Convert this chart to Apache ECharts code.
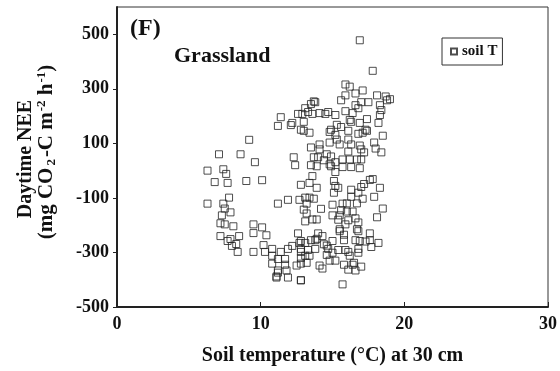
<!DOCTYPE html>
<html><head><meta charset="utf-8">
<script src="https://cdn.jsdelivr.net/npm/echarts@6/dist/echarts.min.js"></script>
<style>html,body{margin:0;padding:0;background:#fff}#c{width:560px;height:371px}</style>
</head><body><div id="c"></div>
<script>
// Soil temperature (°C) at 30 cm, and daytime NEE (mg CO2-C m-2 h-1)
const soilT = [
6.3,7.1,8.6,9.2,9.6,7.4,7.6,6.8,7.7,9.0,10.1,6.3,7.4,7.8,7.5,7.9,7.3,7.2,7.5,8.1,7.2,7.7,7.9,8.5,8.0,8.3,8.4,9.5,9.5,10.1,10.4,9.5,10.2,10.3,10.8,10.8,10.8,11.1,11.2,
11.4,11.2,12.1,12.2,12.6,12.8,12.4,12.8,11.2,11.9,12.7,13.0,
11.2,11.4,11.7,11.9,12.2,12.7,12.8,12.8,12.5,11.7,11.8,11.2,11.1,11.9,12.8,
15.5,16.8,12.8,13.1,13.5,13.8,15.0,15.8,16.6,16.9,17.6,18.2,17.7,12.8,13.3,13.8,14.7,15.0,14.6,15.4,15.9,16.1,16.2,16.8,16.8,13.1,13.4,12.8,13.2,14.8,15.2,14.1,14.3,15.8,16.1,16.4,16.5,16.6,17.0,12.8,15.7,
13.5,13.9,14.9,15.7,16.3,16.9,15.2,13.4,13.9,15.1,15.2,15.4,16.3,17.0,17.2,17.6,17.8,18.3,15.1,16.8,16.3,17.1,17.9,13.1,13.4,13.7,13.2,15.0,15.7,18.5,13.2,15.0,15.5,16.4,16.6,16.8,18.1,13.1,13.6,13.9,16.1,15.9,15.5,16.7,
13.5,13.8,13.1,13.3,13.6,14.1,14.7,14.5,15.2,12.9,13.0,13.0,13.4,15.6,16.6,17.0,17.5,18.3,18.8,18.4,18.3,15.9,16.4,16.2,16.8,17.4,18.2,15.3,15.6,16.3,16.1,16.9,17.4,17.1,16.8,14.8,15.2,15.3,15.5,16.1,16.3,16.9,17.0,17.2,17.9,18.5,18.0,18.4,13.5,14.1,14.1,14.8,16.1,14.9,14.4,14.8,12.3,13.7,14.0,14.6,15.7,16.2,16.7,17.0,15.2,14.9,17.3,
16.9,17.8,15.9,16.2,17.1,15.9,16.6,18.1,18.7,19.0,13.7,
14.0,14.3,15.8,16.0,13.6,14.2,15.4,17.6,12.6,14.4,16.7,17.3,13.9,15.6,14.6,16.0
];
const nee = [
0,60,60,113,31,5,-12,-42,-45,-38,-35,-121,-121,-99,-139,-153,-164,-193,-197,-204,-240,-258,-251,-240,-276,-269,-298,-197,-229,-208,-237,-298,-273,-298,-287,-312,-341,-388,-366,
196,164,167,175,208,150,20,-52,-121,-107,-107,-143,
-324,-298,-324,-287,-276,-265,-287,-320,-348,-345,-366,-374,-392,-392,-402,
-222,-222,-258,-265,-255,-255,-258,-255,-255,-258,-255,-265,-280,-298,-291,-287,-287,-301,-309,-291,-291,-298,-312,-287,-301,-312,-312,-341,-338,-330,-330,-348,-359,-345,-363,-345,-338,-366,-352,-402,-417,
20,16,16,13,13,9,-5,-45,-63,-38,-56,-63,-70,-60,-49,-34,-31,-63,-81,-81,-96,-103,-96,-99,-99,-103,-121,-125,-121,-139,-157,-164,-164,-150,-175,-190,-171,-186,-179,-179,-182,-197,-215,-215,
244,251,229,215,208,211,215,208,204,208,179,146,139,258,240,251,251,240,258,222,204,218,211,186,229,189,175,168,160,179,146,175,146,139,135,142,131,114,96,114,96,92,78,67,103,128,81,67,85,96,78,103,70,52,38,23,49,49,49,60,41,41,41,41,31,150,150,
478,366,316,308,294,276,283,276,272,262,254,
-230,-240,-235,-120,-20,-140,-180,-230,-230,-270,-120,-260,-250,-145,-275,-150
];
const xTicks = [0, 10, 20, 30];
const yTicks = [-500, -300, -100, 100, 300, 500];
const seriesName = 'soil T';

const points = soilT.map((t, i) => [t, nee[i]]);
const serif = '"Liberation Serif","DejaVu Serif",serif';
const chart = echarts.init(document.getElementById('c'), null, {renderer: 'canvas'});
chart.setOption({
  animation: false,
  backgroundColor: '#fff',
  grid: {left: 117, right: 10, top: 7, bottom: 59, show: true, borderColor: '#333', borderWidth: 1},
  xAxis: {
    type: 'value', min: xTicks[0], max: xTicks[xTicks.length - 1], interval: 10,
    axisLine: {show: true, onZero: false, lineStyle: {color: '#222', width: 2}},
    axisTick: {show: true, inside: true, length: 5, lineStyle: {color: '#222'}},
    splitLine: {show: false},
    axisLabel: {color: '#111', fontFamily: serif, fontWeight: 'bold', fontSize: 18, margin: 8},
    name: 'Soil temperature (°C) at 30 cm', nameLocation: 'middle', nameGap: 39,
    nameTextStyle: {color: '#111', fontFamily: serif, fontWeight: 'bold', fontSize: 20}
  },
  yAxis: {
    type: 'value', min: yTicks[0], max: 600, interval: 200,
    axisLine: {show: true, onZero: false, lineStyle: {color: '#222', width: 2}},
    axisTick: {show: true, inside: false, length: 4, lineStyle: {color: '#222'}},
    splitLine: {show: false},
    axisLabel: {color: '#111', fontFamily: serif, fontWeight: 'bold', fontSize: 18, margin: 8, showMaxLabel: false}
  },
  legend: {
    data: [seriesName], left: 442, top: 38, orient: 'vertical',
    borderColor: '#333', borderWidth: 1, padding: [6, 5, 6, 8],
    itemWidth: 6, itemHeight: 6, itemGap: 0,
    textStyle: {color: '#111', fontFamily: serif, fontWeight: 'bold', fontSize: 15}
  },
  graphic: [
    {type: 'text', left: 130, top: 17, style: {text: '(F)', font: 'bold 24px ' + serif, fill: '#111'}},
    {type: 'text', left: 174, top: 45, style: {text: 'Grassland', font: 'bold 22px ' + serif, fill: '#111'}},
    {type: 'text', x: 26, y: 159, rotation: Math.PI / 2,
      style: {text: 'Daytime NEE', font: 'bold 20px ' + serif, fill: '#111', align: 'center', verticalAlign: 'middle'}},
    {type: 'text', x: 47, y: 152, rotation: Math.PI / 2,
      style: {
        text: '{a|(mg CO}{s|2}{a|-C m}{p|-2}{a| h}{p|-1}{a|)}',
        align: 'center', verticalAlign: 'middle',
        rich: {
          a: {font: 'bold 21px ' + serif, fill: '#111'},
          s: {font: 'bold 13px ' + serif, fill: '#111', padding: [9, 2, 0, 2]},
          p: {font: 'bold 13px ' + serif, fill: '#111', padding: [0, 0, 10, 1]}
        }
      }}
  ],
  series: [{
    name: seriesName, type: 'scatter', data: points, symbol: 'rect', symbolSize: 7,
    itemStyle: {color: 'rgba(255,255,255,0)', borderColor: '#222', borderWidth: 1}
  }]
});
</script></body></html>
